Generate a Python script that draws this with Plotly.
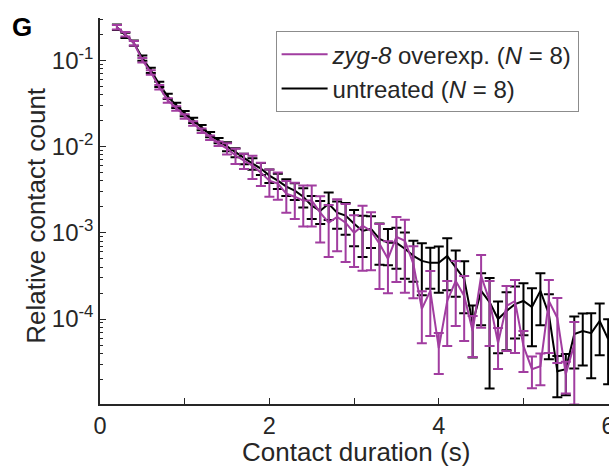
import plotly.graph_objects as go

# Contact duration bins (s)
durations = [0.2, 0.3, 0.4, 0.5, 0.6, 0.7, 0.8, 0.9, 1.0, 1.1, 1.2, 1.3, 1.4, 1.5, 1.6,
             1.7, 1.8, 1.9, 2.0, 2.1, 2.2, 2.3, 2.4, 2.5, 2.6, 2.7, 2.8, 2.9, 3.0, 3.1,
             3.2, 3.3, 3.4, 3.5, 3.6, 3.7, 3.8, 3.9, 4.0, 4.1, 4.2, 4.3, 4.4, 4.5, 4.6,
             4.7, 4.8, 4.9, 5.0, 5.1, 5.2, 5.3, 5.4, 5.5, 5.6, 5.7, 5.8, 5.9, 6.0]

# untreated (N = 8)
untreated = [0.242, 0.195, 0.158, 0.106, 0.0765, 0.0526, 0.0382, 0.0300, 0.0242, 0.0201,
             0.0166, 0.0138, 0.0117, 0.0100, 0.00852, 0.00725, 0.00634, 0.00555, 0.00460,
             0.00402, 0.00343, 0.00308, 0.00262, 0.00206, 0.00180, 0.00217, 0.00171,
             0.00158, 0.00127, 0.00105, 0.00111, 0.000852, 0.000765, 0.000765, 0.000652,
             0.000540, 0.000472, 0.000448, 0.000448, 0.000540, 0.000402, 0.000292,
             0.0000898, 0.000212, 0.000157, 0.000100, 0.000124, 0.000149, 0.000162,
             0.000138, 0.000212, 0.000114, 0.0000248, 0.0000262, 0.0000669, 0.0000725,
             0.0000687, 0.0000948, 0.0000585]
untreated_relerr = [0.07, 0.07, 0.07, 0.07, 0.07, 0.07, 0.07, 0.07, 0.07, 0.07, 0.07, 0.07, 0.07,
                    0.12, 0.12, 0.14, 0.15, 0.16, 0.18,
                    0.20, 0.22, 0.22, 0.25, 0.30, 0.30, 0.35, 0.35, 0.40,
                    0.45, 0.50, 0.40, 0.50, 0.45, 0.50, 0.55, 0.50, 0.60, 0.50,
                    0.55, 0.60, 0.55, 0.60, 0.60, 0.60, 0.90, 0.60, 0.65, 0.60,
                    0.60, 0.65, 0.60, 0.70, 0.50, 0.50, 0.60, 0.60, 0.70, 0.60, 0.70]

# zyg-8 overexp. (N = 8)
zyg8 = [0.242, 0.2005, 0.158, 0.100, 0.0725, 0.0486, 0.0343, 0.0277, 0.0223, 0.0185,
        0.0153, 0.0127, 0.0108, 0.00948, 0.00786, 0.00687, 0.00601, 0.00498, 0.00402,
        0.00371, 0.00284, 0.00262, 0.00236, 0.00236, 0.00171, 0.00131, 0.00153, 0.00131,
        0.00100, 0.00121, 0.00105, 0.000745, 0.000499, 0.000898, 0.000807, 0.000436,
        0.000131, 0.000212, 0.0000460, 0.000162, 0.000277, 0.000185, 0.0000725,
        0.000316, 0.000162, 0.0000526, 0.000142, 0.000162, 0.0000486, 0.0000262,
        0.0000284, 0.000162, 0.000103, 0.0000229, 0.0000512]
zyg8_relerr = [0.06, 0.06, 0.06, 0.06, 0.06, 0.06, 0.06, 0.06, 0.06, 0.06, 0.06, 0.06, 0.06,
               0.15, 0.20, 0.20, 0.30, 0.30, 0.35,
               0.35, 0.40, 0.45, 0.50, 0.50, 0.55, 0.60, 0.60, 0.65,
               0.60, 0.70, 0.65, 0.70, 0.60, 0.70, 0.75, 0.60, 0.60, 0.70,
               0.50, 0.70, 0.70, 0.70, 0.50, 0.75, 0.70, 0.50, 0.70, 0.75,
               0.50, 0.40, 0.40, 0.75, 0.70, 0.40, 0.80]

x_tickvals = [0, 2, 4, 6]
x_ticktext = ["0", "2", "4", "6"]
x_minor_tickvals = [1, 3, 5]
y_tickvals = [1e-4, 1e-3, 1e-2, 1e-1]
y_ticktext = ["10<sup>-4</sup>", "10<sup>-3</sup>", "10<sup>-2</sup>", "10<sup>-1</sup>"]
y_minor_tickvals = [m * 10.0 ** e for e in (-5, -4, -3, -2, -1) for m in range(2, 10)]

PURPLE = "#A13DA0"
BLACK = "#000000"
FONT = "Liberation Sans, Arial, sans-serif"
TXT = "#262626"

untreated_err = [v * r for v, r in zip(untreated, untreated_relerr)]
zyg8_err = [v * r for v, r in zip(zyg8, zyg8_relerr)]

fig = go.Figure()
fig.add_trace(go.Scatter(
    x=durations, y=untreated, mode="lines",
    name="untreated (<i>N</i> = 8)",
    line=dict(color=BLACK, width=2),
    error_y=dict(type="data", array=untreated_err, color=BLACK, thickness=2, width=5),
))
fig.add_trace(go.Scatter(
    x=durations[:len(zyg8)], y=zyg8, mode="lines",
    name="<i>zyg-8</i> overexp. (<i>N</i> = 8)",
    line=dict(color=PURPLE, width=2),
    error_y=dict(type="data", array=zyg8_err, color=PURPLE, thickness=2, width=5),
))

fig.update_layout(
    width=609, height=470,
    margin=dict(l=100, r=0, t=18, b=66, autoexpand=False),
    paper_bgcolor="white", plot_bgcolor="white",
    font=dict(family=FONT, size=23, color=TXT),
    showlegend=True,
    legend=dict(
        x=0.345, y=0.966, xanchor="left", yanchor="top",
        bgcolor="white", bordercolor="#8c8c8c", borderwidth=1,
        font=dict(family=FONT, size=24, color=TXT),
        traceorder="reversed", tracegroupgap=0, itemwidth=46,
    ),
    xaxis=dict(
        range=[0, 6.01], tickmode="array", tickvals=x_tickvals, ticktext=x_ticktext,
        ticklabeloverflow="allow",
        ticks="inside", ticklen=6, tickwidth=1.3, tickcolor=TXT,
        minor=dict(tickvals=x_minor_tickvals, ticks="inside", ticklen=6, tickwidth=1.3,
                   tickcolor=TXT, showgrid=False),
        showline=True, linecolor=TXT, linewidth=1.5,
        showgrid=False, zeroline=False, automargin=False,
        tickfont=dict(size=23.5),
    ),
    yaxis=dict(
        type="log", range=[-4.985, -0.51],
        tickmode="array", tickvals=y_tickvals, ticktext=y_ticktext,
        ticks="inside", ticklen=6, tickwidth=1.3, tickcolor=TXT,
        minor=dict(tickvals=y_minor_tickvals, ticks="inside", ticklen=3, tickwidth=1,
                   tickcolor=TXT, showgrid=False),
        showline=True, linecolor=TXT, linewidth=1.5,
        showgrid=False, zeroline=False, automargin=False,
        tickfont=dict(size=24),
    ),
)

# Axis titles
fig.add_annotation(
    text="Contact duration (s)", xref="paper", yref="paper", x=0.503, y=-0.124,
    xanchor="center", yanchor="middle", showarrow=False,
    font=dict(family=FONT, size=26, color=TXT),
)
fig.add_annotation(
    text="Relative contact count", xref="paper", yref="paper", x=-0.126, y=0.49,
    xanchor="center", yanchor="middle", showarrow=False, textangle=-90,
    font=dict(family=FONT, size=26, color=TXT),
)
# Panel label
fig.add_annotation(
    text="<b>G</b>", xref="paper", yref="paper", x=-0.153, y=0.977,
    xanchor="center", yanchor="middle", showarrow=False,
    font=dict(family=FONT, size=26, color="black"),
)

fig.write_html("out.html")
